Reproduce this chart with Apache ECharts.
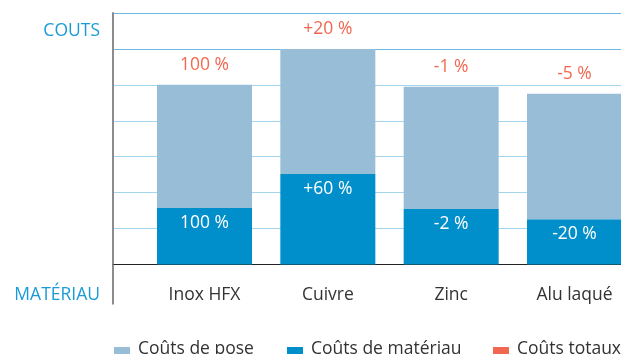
<!DOCTYPE html>
<html>
<head>
<meta charset="utf-8">
<script src="https://cdn.jsdelivr.net/npm/echarts@6/dist/echarts.min.js"></script>
<style>
  html, body { margin: 0; padding: 0; background: #fff; }
  #chart { width: 621px; height: 354px; }
</style>
</head>
<body>
<div id="chart"></div>
<script>
// Roofing materials compared
const categories = ['Inox HFX', 'Cuivre', 'Zinc', 'Alu laqué'];
// Total cost index (Inox HFX = 100)
const totalIndex = [100, 120, 99, 95];
// Material cost index (Inox HFX = 100)
const materialIndex = [100, 160, 98, 80];
// Share of the material cost in the Inox HFX total, in percent
const inoxMaterialShare = 31.5;
const seriesNames = ['Coûts de pose', 'Coûts de matériau', 'Coûts totaux'];

const FONT = '"Open Sans", sans-serif';
const FS = 17.5;
const C_POSE = '#97bed6';
const C_MAT = '#008fcb';
const C_TOTAL = '#ef4123';
const C_BLUE_TEXT = '#1a9bd7';

// Material cost expressed on the total-cost scale
const materialCost = materialIndex.map(v => v * inoxMaterialShare / 100);
const poseCost = totalIndex.map((t, i) => t - materialCost[i]);

function relLabel(v, i) {
  if (i === 0) return v + ' %';
  const d = v - 100;
  return (d > 0 ? '+' : '') + d + ' %';
}

const chart = echarts.init(document.getElementById('chart'), null, { renderer: 'canvas' });

// Legend swatch: square sitting low in the item box so the text rides near its top edge
const SWATCH = 'path://M0,0L0,0M0,12L16,12L16,28L0,28Z';

const legendBase = {
  orient: 'horizontal',
  top: 335,
  padding: 0,
  itemWidth: 16,
  itemHeight: 28,
  icon: SWATCH,
  selectedMode: false,
  textStyle: { fontFamily: FONT, fontSize: FS, color: '#333', padding: [0, 0, 0, 3] }
};

chart.setOption({
  animation: false,
  grid: [
    // frame: value axis line, gridlines and baseline
    { left: 113, right: 0, top: 13, bottom: 89.5 },
    // bars: category ticks sit on the bar centres
    { left: 204.5, right: 46.5, top: 13, bottom: 89.5 }
  ],
  xAxis: [
    {
      gridIndex: 0, type: 'value', min: 0, max: 1,
      axisLine: { show: true, onZero: false, lineStyle: { color: '#222', width: 1 } },
      axisTick: { show: false }, axisLabel: { show: false }, splitLine: { show: false }
    },
    {
      gridIndex: 1, type: 'category', data: categories, boundaryGap: false,
      axisLine: { show: false }, axisTick: { show: false }, splitLine: { show: false },
      axisLabel: { color: '#333', fontFamily: FONT, fontSize: FS, margin: 22, interval: 0 }
    }
  ],
  yAxis: [
    {
      gridIndex: 0, type: 'value', min: 0, max: 140, interval: 20,
      axisLine: { show: true, lineStyle: { color: '#8c8c8c', width: 2 } },
      axisTick: { show: false }, axisLabel: { show: false },
      splitLine: {
        show: true,
        showMinLine: false,
        showMaxLine: true,
        lineStyle: {
          width: 1,
          color: ['#a5d5ec', '#a5d5ec', '#a5d5ec', '#a5d5ec', '#a5d5ec', '#6cb9e0', '#6cb9e0', '#6cb9e0']
        }
      }
    },
    {
      gridIndex: 1, type: 'value', min: 0, max: 140, interval: 20,
      show: false
    }
  ],
  legend: [
    Object.assign({}, legendBase, { left: 114, data: [seriesNames[0]] }),
    Object.assign({}, legendBase, { left: 287, data: [seriesNames[1]] }),
    Object.assign({}, legendBase, { left: 493, data: [seriesNames[2]] })
  ],
  series: [
    {
      name: seriesNames[1], type: 'bar', stack: 'cost',
      xAxisIndex: 1, yAxisIndex: 1, barWidth: 95, clip: false,
      itemStyle: { color: C_MAT },
      data: materialCost,
      label: {
        show: true, position: 'insideTop', distance: 6,
        color: '#fff', fontFamily: FONT, fontSize: FS,
        formatter: p => relLabel(materialIndex[p.dataIndex], p.dataIndex)
      },
      z: 3
    },
    {
      name: seriesNames[0], type: 'bar', stack: 'cost',
      xAxisIndex: 1, yAxisIndex: 1, barWidth: 95, clip: false,
      itemStyle: { color: C_POSE },
      data: poseCost,
      z: 3
    },
    {
      name: seriesNames[2], type: 'scatter',
      xAxisIndex: 1, yAxisIndex: 1, clip: false,
      symbolSize: 0,
      itemStyle: { color: C_TOTAL },
      data: totalIndex,
      label: {
        show: true, position: 'top', distance: 11,
        color: C_TOTAL, fontFamily: FONT, fontSize: FS,
        formatter: p => relLabel(totalIndex[p.dataIndex], p.dataIndex)
      },
      z: 4
    }
  ],
  graphic: [
    {
      type: 'line', z: 10,
      shape: { x1: 113, y1: 264.5, x2: 113, y2: 304.5 },
      style: { stroke: '#8c8c8c', lineWidth: 2 }
    },
    {
      type: 'text', z: 10,
      style: {
        text: 'COUTS', x: 100, y: 31, align: 'right', verticalAlign: 'middle',
        fill: C_BLUE_TEXT, font: FS + 'px ' + FONT
      }
    },
    {
      type: 'text', z: 10,
      style: {
        text: 'MATÉRIAU', x: 100, y: 295, align: 'right', verticalAlign: 'middle',
        fill: C_BLUE_TEXT, font: FS + 'px ' + FONT
      }
    }
  ]
});
</script>
</body>
</html>
